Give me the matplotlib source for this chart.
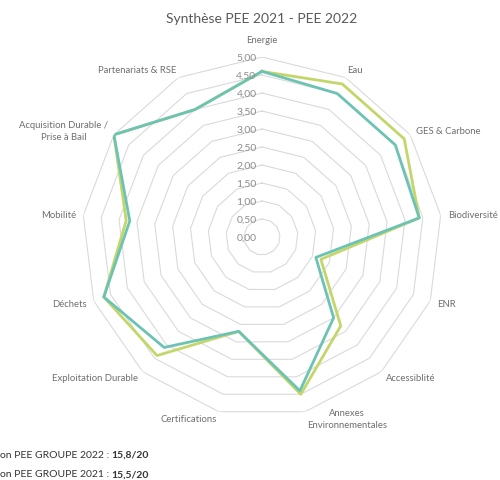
import numpy as np
import matplotlib
matplotlib.use("Agg")
import matplotlib.pyplot as plt

categories = ["Energie", "Eau", "GES & Carbone", "Biodiversité", "ENR", "Accessiblité",
              "Annexes\nEnvironnementales", "Certifications", "Exploitation Durable",
              "Déchets", "Mobilité", "Acquisition Durable /\nPrise à Bail", "Partenariats & RSE"]
pee_2022 = [4.6, 4.8, 4.8, 4.4, 1.75, 3.3, 4.5, 2.7, 4.4, 4.7, 3.8, 5.0, 4.0]
pee_2021 = [4.6, 4.5, 4.5, 4.4, 1.6, 3.0, 4.4, 2.7, 4.1, 4.7, 3.7, 5.0, 4.0]
ring_levels = [0.5, 1.0, 1.5, 2.0, 2.5, 3.0, 3.5, 4.0, 4.5, 5.0]
tick_values = [0.0, 0.5, 1.0, 1.5, 2.0, 2.5, 3.0, 3.5, 4.0, 4.5, 5.0]

plt.rcParams['font.family'] = ['Lato', 'DejaVu Sans']

fig = plt.figure(figsize=(5, 4.81), dpi=100)
ax = fig.add_axes([0.164, 0.131, 0.72, 0.7484], projection='polar')
ax.set_theta_offset(np.pi / 2)
ax.set_theta_direction(-1)
ax.set_ylim(0, 5)
ax.set_xticks([])
ax.set_yticks([])
ax.grid(False)
ax.spines['polar'].set_visible(False)
ax.patch.set_alpha(0)

n = len(categories)
angles = np.arange(n) * 2 * np.pi / n
closed = np.append(angles, angles[0])

# polygon rings
for r in ring_levels:
    ax.plot(closed, [r] * (n + 1), color='#dadada', lw=0.8, zorder=1)

# series
ax.plot(closed, pee_2022 + pee_2022[:1], color='#c3d66a', lw=2.0, zorder=3)
ax.plot(closed, pee_2021 + pee_2021[:1], color='#6cc3b4', lw=2.0, zorder=4)

# value labels
for v in tick_values:
    ax.annotate(f"{v:.2f}".replace(".", ","), xy=(0, v), xytext=(-4, 0),
                textcoords='offset points', ha='right', va='center',
                fontsize=7.5, color='#8c8c8c', zorder=5)

# category labels
for a, lab in zip(angles, categories):
    c = np.sin(a)
    s = np.cos(a)
    if c > 0.2:
        ha = 'left'
    elif c < -0.2:
        ha = 'right'
    else:
        ha = 'center'
    if s > 0.8:
        va = 'bottom'
    elif s < -0.8 and ha == 'center':
        va = 'top'
    else:
        va = 'center'
    rr = 5.2
    if va == 'bottom':
        rr = 5.35 if ha == 'center' else 5.1
    ax.text(a, rr, lab, ha=ha, va=va, fontsize=6.8, color='#6e6e6e',
            multialignment='center', linespacing=1.5)

fig.text(0.524, 0.96, "Synthèse PEE 2021 - PEE 2022", ha='center', va='center',
         fontsize=10, color='#595959')

t1 = fig.text(0.0, 0.054, "on PEE GROUPE 2022 : ", ha='left', va='center',
              fontsize=7.5, color='#333333')
t2 = fig.text(0.0, 0.0125, "on PEE GROUPE 2021 : ", ha='left', va='center',
              fontsize=7.5, color='#333333')
ax.annotate("15,8/20", xy=(1, 0.5), xycoords=t1, ha='left', va='center',
            fontsize=7.5, fontweight='bold', color='#333333', annotation_clip=False)
ax.annotate("15,5/20", xy=(1, 0.5), xycoords=t2, ha='left', va='center',
            fontsize=7.5, fontweight='bold', color='#333333', annotation_clip=False)

fig.savefig("out.png", dpi=100)
